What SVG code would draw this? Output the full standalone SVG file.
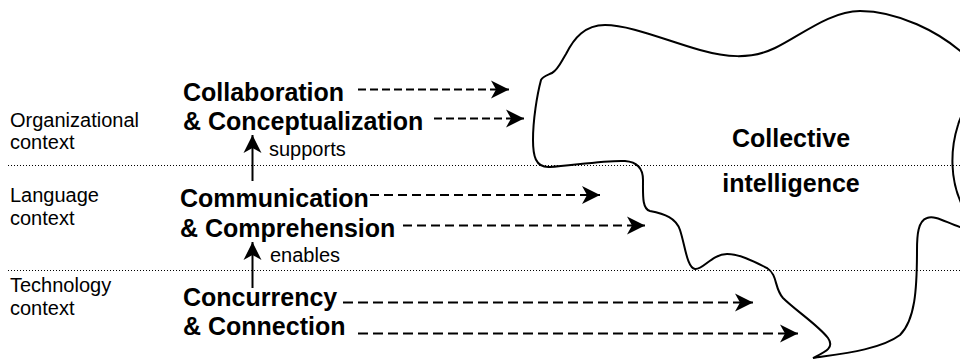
<svg xmlns="http://www.w3.org/2000/svg" width="960" height="360" viewBox="0 0 960 360">
<style>
.lbl{font-family:"Liberation Sans",Arial,sans-serif;font-size:20px;fill:#000}
.big{font-family:"Liberation Sans",Arial,sans-serif;font-size:25px;font-weight:bold;fill:#000}
.dot{stroke:#000;stroke-width:1;stroke-dasharray:1 2;fill:none}
.dash{stroke:#000;stroke-width:2;fill:none;marker-end:url(#ah)}
.up{stroke:#000;stroke-width:2;fill:none;marker-end:url(#ah)}
.blob{stroke:#000;stroke-width:2;fill:none}
</style>
<defs>
<marker id="ah" viewBox="-20 -10 20 20" refX="0" refY="0" markerWidth="20" markerHeight="20" markerUnits="userSpaceOnUse" orient="auto">
<path d="M0,0 L-18,-9 L-13,0 L-18,9 Z" fill="#000"/>
</marker>
</defs>
<rect width="960" height="360" fill="#fff"/>
<g id="layers">
<line class="dot" x1="8" y1="165.5" x2="960" y2="165.5"/>
<line class="dot" x1="8" y1="270.5" x2="960" y2="270.5"/>
</g>
<g id="context-labels">
<text class="lbl" x="10" y="127">Organizational</text>
<text class="lbl" x="10" y="149">context</text>
<text class="lbl" x="10" y="202">Language</text>
<text class="lbl" x="10" y="225">context</text>
<text class="lbl" x="10" y="292">Technology</text>
<text class="lbl" x="10" y="315">context</text>
</g>
<g id="collective">
<path class="blob" d="M541 80 C543 76 548 75 552 73 C558 70 561 62 566 54 C574 38 585 25 605 25 C630 25 665 40 700 50 C725 57 750 60 775 48 C800 36 830 11 860 11 C895 11 940 30 970 60 C990 85 965 100 958 125 C950 150 950 180 962 205 C975 228 972 232 960 227 C945 222 935 215 927 218 C918 221 917 235 917 250 C917 290 915 320 900 335 C880 350 840 354 813 358 C825 352 835 348 828 338 C818 325 795 310 783 298 C774 288 778 275 767 268 C755 262 740 254 727 254 C712 254 703 270 695 269 C687 268 685 245 680 230 C676 218 665 214 650 211 C642 209 643 195 643 180 C643 170 638 162 625 161 C605 160 570 166 550 167 C535 168 533 155 533 140 C533 120 537 95 541 80 Z"/>
<text class="big" x="791" y="147" text-anchor="middle">Collective</text>
<text class="big" x="791" y="192" text-anchor="middle">intelligence</text>
</g>
<g id="organizational">
<text class="big" x="183" y="101">Collaboration</text>
<text class="big" x="183" y="130">&amp; Conceptualization</text>
</g>
<g id="language">
<text class="big" x="180" y="207">Communication</text>
<text class="big" x="180" y="237">&amp; Comprehension</text>
</g>
<g id="technology">
<text class="big" x="183" y="306">Concurrency</text>
<text class="big" x="183" y="335">&amp; Connection</text>
</g>
<g id="connectors">
<line class="dash" x1="358" y1="89.5" x2="509" y2="89.5" stroke-dasharray="8 4"/>
<line class="dash" x1="434" y1="118.5" x2="524" y2="118.5" stroke-dasharray="8 4"/>
<line class="dash" x1="370" y1="195" x2="600" y2="195" stroke-dasharray="9 5"/>
<line class="dash" x1="403" y1="225.5" x2="645" y2="225.5" stroke-dasharray="9 5"/>
<line class="dash" x1="343" y1="302.5" x2="753" y2="302.5" stroke-dasharray="10 5"/>
<line class="dash" x1="358" y1="333.5" x2="798" y2="333.5" stroke-dasharray="10 5"/>
<line class="up" x1="252.5" y1="181" x2="252.5" y2="135"/>
<text class="lbl" x="269" y="156">supports</text>
<line class="up" x1="252.5" y1="288" x2="252.5" y2="242"/>
<text class="lbl" x="270" y="262">enables</text>
</g>
</svg>
